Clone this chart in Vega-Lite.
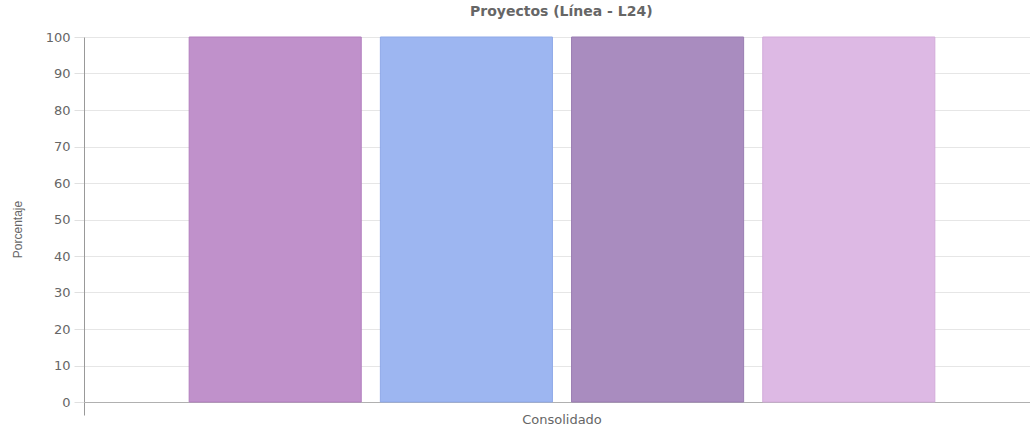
{
  "$schema": "https://vega.github.io/schema/vega-lite/v6.json",
  "autosize": {"type": "none"},
  "width": 946,
  "height": 365,
  "padding": {"left": 84, "top": 37, "right": 0, "bottom": 28},
  "background": "white",
  "title": {
    "text": "Proyectos (Línea - L24)",
    "font": "DejaVu Sans",
    "fontSize": 14,
    "fontWeight": "bold",
    "color": "#666666",
    "anchor": "start",
    "dx": 459,
    "offset": 12
  },
  "config": {
    "view": {"stroke": null},
    "font": "DejaVu Sans"
  },
  "data": {
    "values": [
      {"categoria": "Consolidado", "serie": "Serie 1", "porcentaje": 100},
      {"categoria": "Consolidado", "serie": "Serie 2", "porcentaje": 100},
      {"categoria": "Consolidado", "serie": "Serie 3", "porcentaje": 100},
      {"categoria": "Consolidado", "serie": "Serie 4", "porcentaje": 100}
    ]
  },
  "mark": {"type": "bar", "strokeWidth": 1},
  "encoding": {
    "x": {
      "field": "categoria",
      "type": "nominal",
      "scale": {"range": [0, 956], "paddingInner": 0, "paddingOuter": 0},
      "axis": {
        "title": null,
        "labelAngle": 0,
        "labelFont": "DejaVu Sans",
        "labelColor": "#666666",
        "labelFontSize": 13,
        "labelPadding": -2,
        "tickSize": 13,
        "tickColor": "#999999",
        "bandPosition": 0,
        "domainColor": "#b0b0b0",
        "grid": false
      }
    },
    "xOffset": {
      "field": "serie",
      "type": "nominal",
      "scale": {"paddingInner": 0.1, "paddingOuter": 0.55}
    },
    "y": {
      "field": "porcentaje",
      "type": "quantitative",
      "scale": {"domain": [0, 100], "nice": false},
      "axis": {
        "title": "Porcentaje",
        "titleFont": "Liberation Sans",
        "titleFontSize": 12,
        "titleFontWeight": "normal",
        "titleColor": "#666666",
        "titleX": -60,
        "titleY": 192,
        "titleAngle": -90,
        "titleAlign": "center",
        "titleBaseline": "bottom",
        "values": [0, 10, 20, 30, 40, 50, 60, 70, 80, 90, 100],
        "labelFont": "DejaVu Sans",
        "labelColor": "#666666",
        "labelFontSize": 13,
        "labelPadding": 4,
        "tickSize": 10,
        "tickColor": "#e0e0e0",
        "domainColor": "#999999",
        "gridColor": "#e6e6e6"
      }
    },
    "color": {
      "field": "serie",
      "type": "nominal",
      "scale": {
        "domain": ["Serie 1", "Serie 2", "Serie 3", "Serie 4"],
        "range": ["#c091cb", "#9db6f1", "#a98cbf", "#ddb9e4"]
      },
      "legend": null
    },
    "stroke": {
      "field": "serie",
      "type": "nominal",
      "scale": {
        "domain": ["Serie 1", "Serie 2", "Serie 3", "Serie 4"],
        "range": ["#b27fbe", "#8fa9e8", "#9a7db2", "#d2aad9"]
      },
      "legend": null
    }
  }
}
